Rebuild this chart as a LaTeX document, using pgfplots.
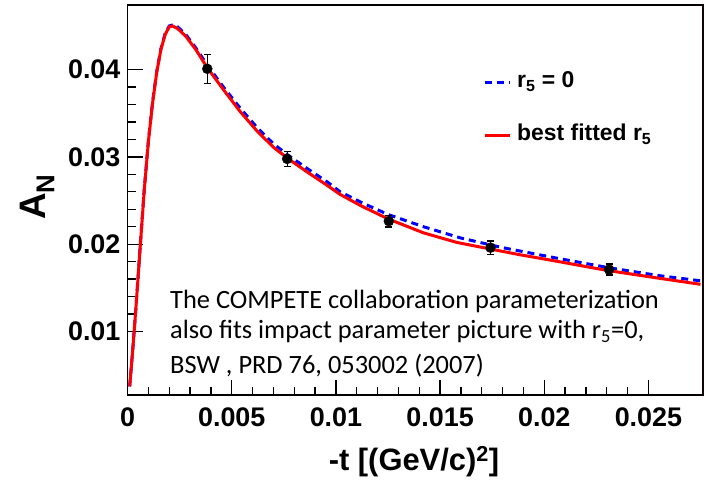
\documentclass[border=0pt]{standalone}
\usepackage{fontspec}
\usepackage{pgfplots}
\pgfplotsset{compat=1.18}
\newfontfamily\arial{Liberation Sans}
\newfontfamily\carlito{Carlito}
\definecolor{rootblue}{RGB}{0,0,255}
\definecolor{rootred}{RGB}{255,0,0}
\begin{document}
\begin{tikzpicture}
\useasboundingbox (-127.6bp,-101bp) rectangle (579.4bp,395bp);
\begin{axis}[
  at={(0,0)}, anchor=south west,
  scale only axis, width=575.4bp, height=390bp,
  xmin=0, xmax=0.02762, ymin=0.00272, ymax=0.0474,
  axis line style={line width=1.5bp, black},
  xtick={0,0.005,0.01,0.015,0.02,0.025},
  xticklabels={0,0.005,0.01,0.015,0.02,0.025},
  ytick={0.01,0.02,0.03,0.04},
  yticklabels={0.01,0.02,0.03,0.04},
  minor x tick num=4, minor y tick num=4,
  xtick pos=bottom, ytick pos=left, tick align=inside,
  major tick length=15bp, minor tick length=8bp,
  every tick/.style={line width=1.3bp, black},
  scaled ticks=false,
  xticklabel style={font=\arial\bfseries\fontsize{27}{27}\selectfont, anchor=north, inner sep=0pt, yshift=-13bp},
  yticklabel style={font=\arial\bfseries\fontsize{27}{27}\selectfont, anchor=east, inner sep=0pt, xshift=-7bp},
  legend style={at={(axis description cs:0.6177,0.7346)}, anchor=west, draw=none, fill=none,
    inner sep=0pt, row sep=30bp, column sep=6bp,
    font=\arial\bfseries\fontsize{23}{23}\selectfont,
    nodes={inner sep=0pt, text height=17bp, text depth=6bp}},
  legend cell align=left,
  legend image code/.code={\draw[#1] (0bp,0bp) -- (25bp,0bp);},
]
\addplot[rootblue, line width=3bp, dash pattern=on 7bp off 5bp] coordinates {
(0.00010,0.0037) (0.00025,0.0080) (0.00040,0.0127) (0.00060,0.0196) (0.00080,0.0263)
(0.00100,0.0319) (0.00120,0.0363) (0.00140,0.0398) (0.00160,0.0424) (0.00180,0.0441)
(0.00200,0.0450) (0.00215,0.0451) (0.00240,0.0449) (0.00280,0.0440) (0.00330,0.0424)
(0.00380,0.0406) (0.00460,0.0380) (0.00540,0.0356) (0.00620,0.0334) (0.00700,0.0315)
(0.00770,0.0302) (0.00860,0.0287) (0.00960,0.0271) (0.01020,0.0260) (0.01120,0.0248)
(0.01250,0.0234) (0.01420,0.0220) (0.01600,0.0207) (0.01800,0.0196) (0.02060,0.0184)
(0.02310,0.0173) (0.02550,0.0164) (0.02750,0.0158)
};
\addlegendentry{r\textsubscript{5} = 0}
\addplot[rootred, line width=3bp] coordinates {
(0.00010,0.0037) (0.00025,0.0080) (0.00040,0.0127) (0.00060,0.0195) (0.00080,0.0262)
(0.00100,0.0318) (0.00120,0.0362) (0.00140,0.0397) (0.00160,0.0423) (0.00180,0.0440)
(0.00200,0.0449) (0.00215,0.0450) (0.00240,0.0447) (0.00280,0.0438) (0.00330,0.0422)
(0.00380,0.0403) (0.00460,0.0377) (0.00540,0.0352) (0.00620,0.0330) (0.00700,0.0311)
(0.00770,0.0298) (0.00860,0.0283) (0.00960,0.0267) (0.01020,0.0257) (0.01120,0.0244)
(0.01250,0.0229) (0.01420,0.0213) (0.01580,0.0202) (0.01740,0.01945) (0.01880,0.0188)
(0.02070,0.0180) (0.02300,0.0170) (0.02550,0.0161) (0.02750,0.0154)
};
\addlegendentry{best fitted r\textsubscript{5}}
\addplot[black, only marks, mark=*, mark size=5bp, forget plot,
  error bars/.cd, y dir=both, y explicit,
  error bar style={line width=1.3bp, black},
  error mark options={rotate=90, mark size=3.5bp, line width=1.3bp, black}]
  coordinates {
(0.003825,0.04009) +- (0,0.00166)
(0.00766,0.02977) +- (0,0.00086)
(0.01254,0.02264) +- (0,0.00067)
(0.01742,0.0196) +- (0,0.00076)
(0.02311,0.01709) +- (0,0.00063)
};
\draw[rootred, line width=1bp] (rel axis cs:1,0) -- (rel axis cs:1,1);
\node[anchor=base west, inner sep=0pt, font=\carlito\fontsize{26.5}{32}\selectfont] at (rel axis cs:0.0737,0.223) {The COMPETE collaboration parameterization};
\node[anchor=base west, inner sep=0pt, font=\carlito\fontsize{26.5}{32}\selectfont] at (rel axis cs:0.0737,0.1454) {also fits impact parameter picture with r\textsubscript{5}=0,};
\node[anchor=base west, inner sep=0pt, font=\carlito\fontsize{26.5}{32}\selectfont] at (rel axis cs:0.0737,0.0564) {BSW , PRD 76, 053002 (2007)};
\end{axis}
\node[font=\arial\bfseries\fontsize{31}{31}\selectfont] at (286.4bp,-67bp) {-t [(GeV/c)\textsuperscript{2}]};
\node[rotate=90, font=\arial\bfseries\fontsize{37}{37}\selectfont] at (-90.6bp,198bp) {A\textsubscript{N}};
\end{tikzpicture}
\end{document}
